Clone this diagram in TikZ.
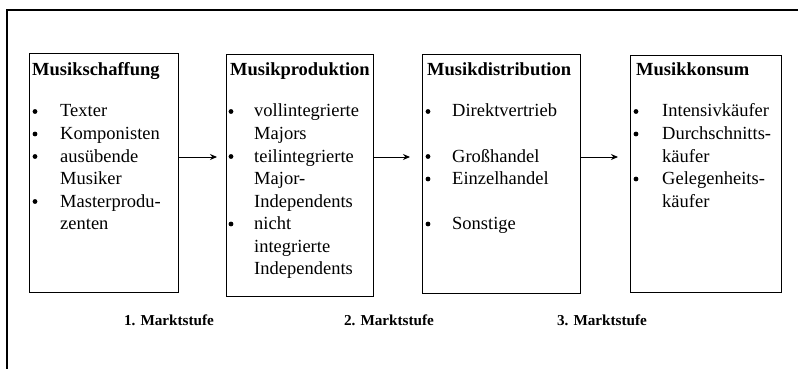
\documentclass[tikz,border=0pt]{standalone}
\usepackage{fontspec}
\setmainfont{Liberation Serif}
\usetikzlibrary{arrows.meta}
\begin{document}
\begin{tikzpicture}[x=1pt,y=-1pt,
  box/.style={draw, line width=1.2pt, inner sep=0pt, anchor=north west},
  ttl/.style={anchor=base west, inner sep=0pt, font=\fontsize{18.5}{22}\selectfont\bfseries},
  itm/.style={anchor=base west, inner sep=0pt, font=\fontsize{18.5}{22}\selectfont},
  dot/.style={circle, fill, inner sep=0pt, minimum size=4.8pt},
  stufe/.style={anchor=base, inner sep=0pt, font=\fontsize{15.2}{18}\selectfont\bfseries},
  arr/.style={-{Stealth[length=7pt,width=6pt]}, line width=1pt}]
\useasboundingbox (0,0) rectangle (798,369);
\draw[line width=1.2pt] (7,369) -- (7,10) -- (798,10);
% boxes
\node[box, minimum width=149pt, minimum height=239pt] (b1) at (29,53) {};
\node[box, minimum width=147pt, minimum height=242pt] (b2) at (226,54) {};
\node[box, minimum width=158pt, minimum height=239pt] (b3) at (422,54) {};
\node[box, minimum width=151pt, minimum height=237pt] (b4) at (630,55) {};
% arrows
\coordinate (ya) at (0,157);
\draw[arr, shorten >=9pt] (b1.east |- ya) -- (b2.west |- ya);
\draw[arr, shorten >=12pt] (b2.east |- ya) -- (b3.west |- ya);
\draw[arr, shorten >=12pt] (b3.east |- ya) -- (b4.west |- ya);
% box 1
\node[ttl] (t1) at (32,75) {Musikschaffung};
\node[dot] (p1a) at (35,111.5) {};
\node[dot] (p1b) at (35,134) {};
\node[dot] (p1c) at (35,156.5) {};
\node[dot] (p1d) at (35,201.5) {};
\node[itm] (i1a) at (60,117) {Texter};
\node[itm] (i1b) at (60,139.5) {Komponisten};
\node[itm] (i1c) at (60,162) {ausübende};
\node[itm] (i1d) at (60,184.5) {Musiker};
\node[itm] (i1e) at (60,207) {Masterprodu-};
\node[itm] (i1f) at (60,229.5) {zenten};
% box 2
\node[ttl] (t2) at (230,75) {Musikproduktion};
\node[dot] (p2a) at (231,111.5) {};
\node[dot] (p2b) at (231,156.5) {};
\node[dot] (p2c) at (231,224) {};
\node[itm] (i2a) at (254,117) {vollintegrierte};
\node[itm] (i2b) at (254,139.5) {Majors};
\node[itm] (i2c) at (254,162) {teilintegrierte};
\node[itm] (i2d) at (254,184.5) {Major-};
\node[itm] (i2e) at (254,207) {Independents};
\node[itm] (i2f) at (254,229.5) {nicht};
\node[itm] (i2g) at (254,252) {integrierte};
\node[itm] (i2h) at (254,274.5) {Independents};
% box 3
\node[ttl] (t3) at (427,75) {Musikdistribution};
\node[dot] (p3a) at (428,111.5) {};
\node[dot] (p3b) at (428,156.5) {};
\node[dot] (p3c) at (428,179) {};
\node[dot] (p3d) at (428,224) {};
\node[itm] (i3a) at (452,117) {Direktvertrieb};
\node[itm] (i3b) at (452,162) {Großhandel};
\node[itm] (i3c) at (452,184.5) {Einzelhandel};
\node[itm] (i3d) at (452,229.5) {Sonstige};
% box 4
\node[ttl] (t4) at (636,75) {Musikkonsum};
\node[dot] (p4a) at (636,111.5) {};
\node[dot] (p4b) at (636,134) {};
\node[dot] (p4c) at (636,179) {};
\node[itm] (i4a) at (662,117) {Intensivkäufer};
\node[itm] (i4b) at (662,139.5) {Durchschnitts-};
\node[itm] (i4c) at (662,162) {käufer};
\node[itm] (i4d) at (662,184.5) {Gelegenheits-};
\node[itm] (i4e) at (662,207) {käufer};
% stages
\node[stufe] (s1) at (169,325) {1. Marktstufe};
\node[stufe] (s2) at (389,325) {2. Marktstufe};
\node[stufe] (s3) at (602,325) {3. Marktstufe};
\end{tikzpicture}
\end{document}
